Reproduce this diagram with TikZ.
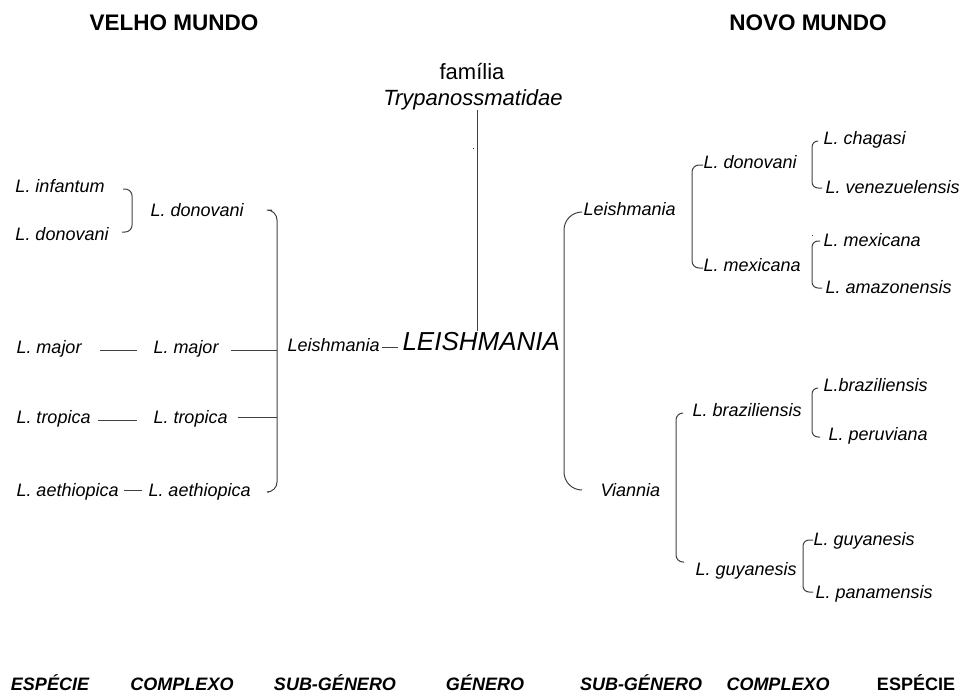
\documentclass[tikz,border=0pt]{standalone}
\usepackage{fontspec}
\setmainfont{Liberation Sans}
\usetikzlibrary{calc}

\begin{document}
\begin{tikzpicture}[x=1pt,y=-1pt,line width=1pt,
	lbl/.style={inner sep=0pt,anchor=west,text height=.72em,text depth=0pt,
		font=\fontsize{18pt}{20pt}\selectfont\itshape},
	head/.style={inner sep=0pt,font=\fontsize{22.5pt}{25pt}\selectfont\bfseries},
	rank/.style={inner sep=0pt,text height=.72em,text depth=0pt,
		font=\fontsize{18pt}{20pt}\selectfont\bfseries\itshape},
	ln/.style={draw=black!75},
	brk/.style={draw=black!75,rounded corners=7pt}]
	\useasboundingbox (0,0) rectangle (964,699);

	% headings
	\node[head] (old) at (174,23) {VELHO MUNDO};
	\node[head] (new) at (808,23) {NOVO MUNDO};

	% family and genus
	\node[inner sep=0pt,font=\fontsize{22pt}{24pt}\selectfont] (fam) at (472,72) {família};
	\node[inner sep=0pt,font=\fontsize{22pt}{24pt}\selectfont\itshape] (tryp) at (473,100) {Trypanossmatidae};
	\node[lbl,font=\fontsize{26pt}{28pt}\selectfont\itshape] (genus) at (402,347) {LEISHMANIA};
	\node[lbl] (leiL) at (287,348) {Leishmania};

	% old world
	\node[lbl] (inf) at (15,189) {L. infantum};
	\node[lbl] (donA) at (15,237) {L. donovani};
	\node[lbl] (donC) at (150,213) {L. donovani};
	\node[lbl] (majS) at (16,350) {L. major};
	\node[lbl] (majC) at (153,350) {L. major};
	\node[lbl] (troS) at (16,420) {L. tropica};
	\node[lbl] (troC) at (153,420) {L. tropica};
	\node[lbl] (aetS) at (16,493) {L. aethiopica};
	\node[lbl] (aetC) at (148,493) {L. aethiopica};
	\coordinate (lspine) at (277,347);

	% new world
	\node[lbl] (leiR) at (583,212) {Leishmania};
	\node[lbl] (viaR) at (600,493) {Viannia};
	\node[lbl] (donR) at (703,165) {L. donovani};
	\node[lbl] (mexR) at (703,268) {L. mexicana};
	\node[lbl] (braR) at (692,413) {L. braziliensis};
	\node[lbl] (guyR) at (695,572) {L. guyanesis};
	\node[lbl] (chaS) at (823,141) {L. chagasi};
	\node[lbl] (venS) at (825,190) {L. venezuelensis};
	\node[lbl] (mexS) at (823,243) {L. mexicana};
	\node[lbl] (amaS) at (825,290) {L. amazonensis};
	\node[lbl] (braS) at (823,388) {L.braziliensis};
	\node[lbl] (perS) at (828,437) {L. peruviana};
	\node[lbl] (guyS) at (813,542) {L. guyanesis};
	\node[lbl] (panS) at (815,595) {L. panamensis};
	\coordinate (rspine) at (564,347);

	% ranks
	\node[rank] (r1) at (50,687) {ESPÉCIE};
	\node[rank] (r2) at (182,687) {COMPLEXO};
	\node[rank] (r3) at (335,687) {SUB-GÉNERO};
	\node[rank] (r4) at (485,687) {GÉNERO};
	\node[rank] (r5) at (641,687) {SUB-GÉNERO};
	\node[rank] (r6) at (778,687) {COMPLEXO};
	\node[rank,font=\fontsize{18pt}{20pt}\selectfont\bfseries] (r7) at (916,687) {ESPÉCIE};

	% family to genus
	\draw[ln] ([xshift=4pt,yshift=1pt]tryp.south) -- ([xshift=4pt]tryp.south |- genus.north) [shorten >=12pt];
	\fill[black!75] (472.5,147.5) rectangle (473.5,148.5);
	\fill[black!75] (811.5,234.5) rectangle (812.5,235.5);

	% old world connectors
	\draw[brk] ([xshift=18pt]inf.east) -| ([xshift=23pt,yshift=5pt]donA.east) -- ([xshift=13pt,yshift=5pt]donA.east);
	\draw[ln,shorten <=18pt,shorten >=16pt] (majS) -- (majC);
	\draw[ln,shorten <=7pt,shorten >=16pt] (troS) -- (troC);
	\draw[ln,shorten <=5pt,shorten >=6pt] ([yshift=3pt]aetS.east) -- ([yshift=3pt]aetC.west);
	\draw[brk,rounded corners=10pt] ([xshift=28pt,yshift=3pt]donC.east) -| (lspine) |- ([xshift=18pt,yshift=1pt]aetC.east);
	\draw[ln] ([xshift=12pt]majC.east) -- (majC.east -| lspine);
	\draw[ln] ([xshift=10pt,yshift=3pt]troC.east) -- ([yshift=3pt]troC.east -| lspine);
	\draw[ln,shorten <=2pt,shorten >=4pt] ([yshift=1pt]leiL.east) -- ([yshift=1pt]leiL.east -| genus.west);

	% new world connectors
	\draw[brk,rounded corners=18pt] ([xshift=-3pt]leiR.west) -| (rspine) |- ([xshift=-18pt,yshift=3pt]viaR.west);
	\draw[brk] (donR.west) -| ([xshift=-11pt]mexR.west) -- (mexR.west);
	\draw[brk] ([xshift=-9pt]braR.west) -| ([xshift=-19pt,yshift=10pt]guyR.west) -- ([xshift=-11pt,yshift=10pt]guyR.west);
	\draw[brk,rounded corners=6pt] ([xshift=-5pt]chaS.west) -| ([xshift=-13pt,yshift=2pt]venS.west) -- ([xshift=-3pt,yshift=2pt]venS.west);
	\draw[brk,rounded corners=6pt] ([xshift=-3pt,yshift=2pt]mexS.west) -| ([xshift=-13pt,yshift=2pt]amaS.west) -- ([xshift=-3pt,yshift=2pt]amaS.west);
	\draw[brk,rounded corners=6pt] ([xshift=-5pt]braS.west) -| ([xshift=-16pt]perS.west) -- ([xshift=-8pt]perS.west);
	\draw[brk,rounded corners=6pt] ([yshift=2pt]guyS.west) -| ([xshift=-12pt,yshift=3pt]panS.west) -- ([xshift=-2pt,yshift=3pt]panS.west);
\end{tikzpicture}
\end{document}
